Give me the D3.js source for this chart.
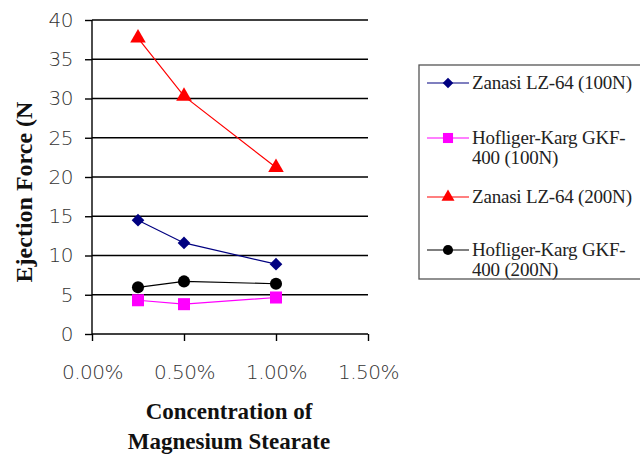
<!DOCTYPE html>
<html>
<head>
<meta charset="utf-8">
<script src="https://cdn.jsdelivr.net/npm/d3@7"></script>
<style>
  html, body { margin: 0; padding: 0; background: #fff; }
  svg { display: block; }
</style>
</head>
<body>
<svg id="chart" width="640" height="455"></svg>
<script>
// Magnesium stearate concentration (fraction) and ejection force readings (N)
const concentrations = [0.0025, 0.005, 0.01];
const zanasi100 = [14.5, 11.6, 8.9];
const hofliger100 = [4.3, 3.8, 4.65];
const zanasi200 = [37.7, 30.3, 21.2];
const hofliger200 = [5.95, 6.7, 6.4];
const xTicks = [0, 0.005, 0.01, 0.015];
const yTicks = [0, 5, 10, 15, 20, 25, 30, 35, 40];

const seriesNames = [
  ["Zanasi LZ-64 (100N)"],
  ["Hofliger-Karg GKF-", "400 (100N)"],
  ["Zanasi LZ-64 (200N)"],
  ["Hofliger-Karg GKF-", "400 (200N)"]
];
const seriesValues = [zanasi100, hofliger100, zanasi200, hofliger200];
const seriesColors = ["#000080", "#ff00ff", "#ff0000", "#000000"];
// painting order of the series (later ones on top)
const drawOrder = [0, 2, 3, 1];

// marker shapes: diamond is a square turned 45 degrees
const markerDefs = [
  { type: d3.symbolSquare, size: 80, rotate: 45 },
  { type: d3.symbolSquare, size: 145, rotate: 0 },
  { type: d3.symbolTriangle, size: 105, rotate: 0 },
  { type: d3.symbolCircle, size: 115, rotate: 0 }
];

const svg = d3.select("#chart");
const x = d3.scaleLinear().domain([0, 0.015]).range([92, 368]);
const y = d3.scaleLinear().domain([0, 40]).range([334, 20]);

// horizontal gridlines
svg.append("g")
  .selectAll("line")
  .data(yTicks.filter(t => t > 0))
  .join("line")
  .attr("x1", x(0)).attr("x2", x(0.015))
  .attr("y1", d => y(d)).attr("y2", d => y(d))
  .attr("stroke", "#000").attr("stroke-width", 1.4);

const tickFont = "'DejaVu Sans', Verdana, sans-serif";

// y axis
const yAxis = svg.append("g")
  .attr("transform", `translate(${x(0)},0)`)
  .call(d3.axisLeft(y).tickValues(yTicks).tickSize(7).tickPadding(12).tickFormat(d3.format("d")));
yAxis.select(".domain").attr("stroke", "#000").attr("stroke-width", 1.4).attr("d", `M0,${y(40)}V${y(0)}`);
yAxis.selectAll(".tick line").attr("stroke", "#000").attr("stroke-width", 1.4);
yAxis.selectAll("text").attr("font-family", tickFont).attr("font-size", 20)
  .attr("font-weight", 200).attr("letter-spacing", -0.5).attr("fill", "#333");

// x axis
const xAxis = svg.append("g")
  .attr("transform", `translate(0,${y(0)})`)
  .call(d3.axisBottom(x).tickValues(xTicks).tickSize(7).tickPadding(24).tickFormat(d3.format(".2%")));
xAxis.select(".domain").attr("stroke", "#000").attr("stroke-width", 1.4).attr("d", `M${x(0)},0H${x(0.015)}`);
xAxis.selectAll(".tick line").attr("stroke", "#000").attr("stroke-width", 1.4);
xAxis.selectAll("text").attr("font-family", tickFont).attr("font-size", 20)
  .attr("font-weight", 200).attr("letter-spacing", -0.5).attr("fill", "#333");

// series lines and markers
const line = d3.line().x((d, i) => x(concentrations[i])).y(d => y(d));
drawOrder.forEach(s => {
  const vals = seriesValues[s];
  const m = markerDefs[s];
  svg.append("path")
    .attr("d", line(vals))
    .attr("fill", "none")
    .attr("stroke", seriesColors[s])
    .attr("stroke-width", 1.2);
  svg.append("g")
    .selectAll("path")
    .data(vals)
    .join("path")
    .attr("transform", (d, i) => `translate(${x(concentrations[i])},${y(d)}) rotate(${m.rotate})`)
    .attr("d", d3.symbol(m.type, m.size))
    .attr("fill", seriesColors[s]);
});

const serif = "'Liberation Serif', 'Times New Roman', serif";

// axis titles
svg.append("text")
  .attr("transform", "translate(32,192) rotate(-90)")
  .attr("text-anchor", "middle")
  .attr("font-family", serif).attr("font-weight", "bold").attr("font-size", 24)
  .attr("fill", "#111")
  .text("Ejection Force (N");

const xTitle = svg.append("text")
  .attr("text-anchor", "middle")
  .attr("font-family", serif).attr("font-weight", "bold").attr("font-size", 23)
  .attr("fill", "#111");
xTitle.append("tspan").attr("x", 229).attr("y", 419).text("Concentration of");
xTitle.append("tspan").attr("x", 229).attr("y", 449).text("Magnesium Stearate");

// legend
const legend = svg.append("g");
legend.append("rect")
  .attr("x", 419).attr("y", 65).attr("width", 230).attr("height", 214)
  .attr("fill", "#fff").attr("stroke", "#555").attr("stroke-width", 1.3);

const legendRows = [83, 138, 197, 250];
seriesNames.forEach((lines, s) => {
  const ry = legendRows[s];
  const m = markerDefs[s];
  const g = legend.append("g");
  g.append("line")
    .attr("x1", 427).attr("x2", 469).attr("y1", ry).attr("y2", ry)
    .attr("stroke", seriesColors[s]).attr("stroke-width", 1.2);
  g.append("path")
    .attr("transform", `translate(448,${ry}) rotate(${m.rotate})`)
    .attr("d", d3.symbol(m.type, m.size * 0.7))
    .attr("fill", seriesColors[s]);
  const t = g.append("text")
    .attr("font-family", serif).attr("font-size", 19).attr("fill", "#222")
    .attr("letter-spacing", -0.2);
  lines.forEach((ln, k) => {
    t.append("tspan").attr("x", 472).attr("y", ry + 6 + k * 20).text(ln);
  });
});
</script>
</body>
</html>
